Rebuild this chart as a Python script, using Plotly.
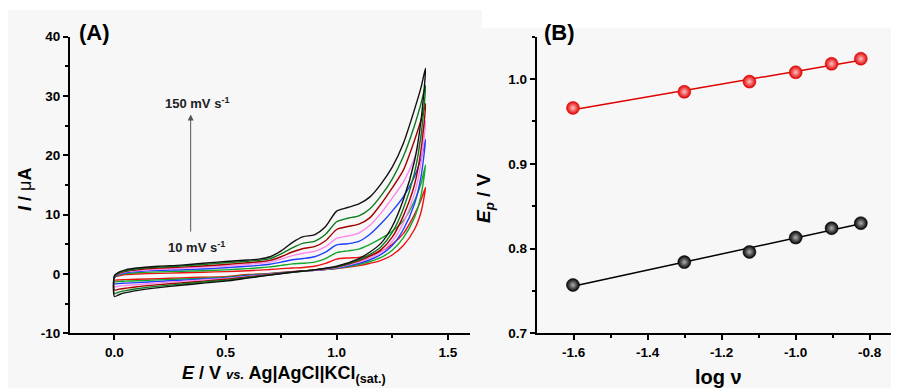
import numpy as np
import plotly.graph_objects as go

# ---------------- Panel A: cyclic voltammograms ----------------
scan_rates = ["10", "25", "50", "75", "100", "125", "150"]
cv_colors = ["#ee1111", "#13a82a", "#1f3fff", "#ff85ee", "#a30000", "#0b7a1c", "#111111"]

E_fwd = [0.0, 0.02, 0.05, 0.1, 0.2, 0.3, 0.4, 0.5, 0.6, 0.65, 0.7, 0.75, 0.8, 0.85, 0.9,
         0.95, 1.0, 1.05, 1.1, 1.15, 1.2, 1.25, 1.3, 1.35, 1.38, 1.4]
I_fwd_10 = [-0.5, -0.3, -0.1, 0.0, 0.1, 0.2, 0.3, 0.4, 0.55, 0.65, 0.75, 0.9, 1.0, 1.1, 1.3,
            1.8, 2.5, 2.7, 2.8, 3.1, 3.8, 5.0, 6.8, 10.0, 12.5, 14.6]
I_fwd_25 = [-0.6, -0.2, 0.05, 0.2, 0.35, 0.45, 0.55, 0.7, 0.9, 1.05, 1.2, 1.45, 1.7, 1.8, 2.0,
            2.6, 3.6, 3.9, 4.2, 5.0, 6.0, 7.2, 9.0, 12.3, 15.3, 18.4]
I_fwd_50 = [-0.6, -0.1, 0.2, 0.4, 0.6, 0.7, 0.85, 1.05, 1.3, 1.45, 1.65, 2.0, 2.4, 2.6, 2.9,
            3.7, 4.9, 5.1, 5.5, 6.7, 8.5, 10.6, 13.0, 16.4, 19.5, 22.7]
I_fwd_75 = [-0.5, 0.0, 0.35, 0.55, 0.8, 0.95, 1.15, 1.35, 1.6, 1.8, 2.0, 2.5, 3.1, 3.5, 3.8,
            4.6, 6.0, 6.4, 6.9, 8.2, 10.3, 12.8, 15.5, 19.5, 23.0, 25.8]
I_fwd_100 = [-0.5, 0.1, 0.45, 0.7, 1.0, 1.15, 1.35, 1.6, 1.9, 2.05, 2.3, 2.9, 3.7, 4.3, 4.6,
             5.6, 7.5, 8.0, 8.4, 9.5, 11.8, 14.5, 17.5, 22.5, 26.0, 28.7]
I_fwd_125 = [-0.4, 0.2, 0.55, 0.85, 1.15, 1.35, 1.6, 1.9, 2.15, 2.3, 2.6, 3.4, 4.4, 5.2, 5.5,
             6.7, 8.8, 9.4, 9.8, 11.0, 13.2, 16.0, 19.8, 25.0, 28.8, 31.8]
I_fwd_150 = [-0.3, 0.3, 0.7, 1.0, 1.3, 1.5, 1.8, 2.1, 2.35, 2.5, 2.9, 3.9, 5.3, 6.3, 6.6,
             8.0, 10.6, 11.2, 11.8, 13.0, 15.2, 18.0, 22.0, 27.7, 31.5, 34.7]

E_rev = [1.4, 1.38, 1.35, 1.3, 1.25, 1.2, 1.15, 1.1, 1.0, 0.9, 0.8, 0.7, 0.6, 0.5, 0.4, 0.3,
         0.2, 0.1, 0.05, 0.02, 0.0]
I_rev_10 = [14.6, 10.5, 7.5, 4.8, 3.2, 2.3, 1.8, 1.4, 0.9, 0.6, 0.4, 0.1, -0.1, -0.45, -0.55,
            -0.65, -0.8, -0.9, -0.95, -1.0, -1.0]
I_rev_25 = [18.4, 13.3, 9.5, 6.1, 4.0, 2.8, 2.1, 1.6, 0.95, 0.6, 0.35, 0.05, -0.2, -0.55, -0.7,
            -0.85, -1.0, -1.15, -1.2, -1.25, -1.3]
I_rev_50 = [22.7, 16.5, 11.8, 7.5, 4.8, 3.3, 2.4, 1.8, 1.0, 0.6, 0.35, 0.0, -0.3, -0.65, -0.85,
            -1.05, -1.25, -1.45, -1.55, -1.6, -1.65]
I_rev_75 = [25.8, 18.8, 13.5, 8.6, 5.5, 3.7, 2.7, 2.0, 1.1, 0.65, 0.35, -0.05, -0.4, -0.75, -1.0,
            -1.25, -1.5, -1.8, -1.95, -2.05, -2.15]
I_rev_100 = [28.7, 21.0, 15.0, 9.8, 6.2, 4.1, 3.0, 2.2, 1.15, 0.7, 0.35, -0.1, -0.5, -0.9, -1.2,
             -1.5, -1.8, -2.15, -2.4, -2.55, -2.7]
I_rev_125 = [31.8, 23.5, 17.0, 11.0, 7.0, 4.6, 3.3, 2.4, 1.2, 0.7, 0.3, -0.15, -0.6, -1.05, -1.35,
             -1.7, -2.05, -2.5, -2.8, -3.05, -3.3]
I_rev_150 = [34.7, 26.0, 19.0, 12.5, 8.0, 5.2, 3.7, 2.6, 1.3, 0.7, 0.3, -0.2, -0.7, -1.2, -1.55,
             -1.9, -2.3, -2.8, -3.15, -3.5, -3.8]

I_fwd_all = [I_fwd_10, I_fwd_25, I_fwd_50, I_fwd_75, I_fwd_100, I_fwd_125, I_fwd_150]
I_rev_all = [I_rev_10, I_rev_25, I_rev_50, I_rev_75, I_rev_100, I_rev_125, I_rev_150]

# tick labels (hyphen-minus as in the original)
xA_ticks = [0.0, 0.5, 1.0, 1.5]
xA_labels = ["0.0", "0.5", "1.0", "1.5"]
yA_ticks = [-10, 0, 10, 20, 30, 40]
yA_labels = ["-10", "0", "10", "20", "30", "40"]

# ---------------- Panel B: peak potential vs log(scan rate) ----------------
log_v = [-1.602, -1.301, -1.125, -1.0, -0.903, -0.824]
Ep_peak2 = [0.966, 0.985, 0.997, 1.008, 1.018, 1.024]
Ep_peak1 = [0.757, 0.784, 0.796, 0.813, 0.824, 0.830]

xB_ticks = [-1.6, -1.4, -1.2, -1.0, -0.8]
xB_labels = ["-1.6", "-1.4", "-1.2", "-1.0", "-0.8"]
yB_ticks = [0.7, 0.8, 0.9, 1.0]
yB_labels = ["0.7", "0.8", "0.9", "1.0"]

# the page body has an 8px margin: the figure starts at (8, 8) and runs to the window edge
OFF = 8
W, H = 899 - OFF, 388 - OFF
FONT = "Liberation Sans, Arial, sans-serif"


def px(x):
    return (x - OFF) / W


def py(y):
    return 1 - (y - OFF) / H


fig = go.Figure()

for lbl, col, If, Ir in zip(scan_rates, cv_colors, I_fwd_all, I_rev_all):
    xs = list(E_fwd) + list(E_rev[1:]) + [E_fwd[0]]
    ys = list(If) + list(Ir[1:]) + [If[0]]
    fig.add_trace(go.Scatter(x=xs, y=ys, mode="lines", name=lbl + " mV/s",
                             line=dict(color=col, width=1.4, shape="spline", smoothing=0.7),
                             xaxis="x", yaxis="y", showlegend=False, hoverinfo="skip"))

lv = np.array(log_v)
for ys_pts, col, grad in [(Ep_peak2, "#e00000", "#ffc0c0"), (Ep_peak1, "#000000", "#b0b0b0")]:
    p = np.polyfit(lv, np.array(ys_pts), 1)
    xl = np.array([lv.min(), lv.max()])
    fig.add_trace(go.Scatter(x=xl, y=np.polyval(p, xl), mode="lines",
                             line=dict(color=col, width=1.5), xaxis="x2", yaxis="y2",
                             showlegend=False, hoverinfo="skip"))
    fig.add_trace(go.Scatter(x=log_v, y=ys_pts, mode="markers",
                             marker=dict(size=13, color=col,
                                         gradient=dict(type="radial", color=grad),
                                         line=dict(color=col, width=0.5)),
                             xaxis="x2", yaxis="y2", showlegend=False))

tickfont = dict(family=FONT, size=13.5, color="black", weight="bold")
ax_common = dict(showline=True, linecolor="black", linewidth=2, ticks="outside",
                 ticklen=5, tickwidth=2, tickcolor="black", showgrid=False, zeroline=False,
                 tickfont=tickfont, mirror=False, automargin=False)
minor_common = dict(ticks="outside", ticklen=3, tickwidth=1.5, tickcolor="black")

x2_right = -1.7 + (899 - 536.7) / 370.0

fig.update_layout(
    width=W, height=H, margin=dict(l=0, r=0, t=0, b=0, pad=0, autoexpand=False),
    paper_bgcolor="white", plot_bgcolor="rgba(0,0,0,0)",
    xaxis=dict(domain=[px(70), px(470)], range=[-0.2, 1.6], tickvals=xA_ticks, ticktext=xA_labels,
               anchor="y", minor=dict(tickvals=[0.25, 0.75, 1.25], **minor_common), **ax_common),
    yaxis=dict(domain=[py(333.3), py(36.7)], range=[-10, 40], tickvals=yA_ticks, ticktext=yA_labels,
               anchor="x", minor=dict(dtick=5, **minor_common), **ax_common),
    xaxis2=dict(domain=[px(536.7), 1.0], range=[-1.7, x2_right],
                tickvals=xB_ticks, ticktext=xB_labels, anchor="y2",
                minor=dict(tickvals=[-1.5, -1.3, -1.1, -0.9], **minor_common), **ax_common),
    yaxis2=dict(domain=[py(333.3), py(36.7)], range=[0.7, 1.05], tickvals=yB_ticks, ticktext=yB_labels,
                anchor="x2",
                minor=dict(tickvals=[0.75, 0.85, 0.95, 1.05], **minor_common), **ax_common),
)

# background panels (light gray)
bg = "#f7f7f7"
fig.add_shape(type="rect", xref="paper", yref="paper", x0=px(8), x1=px(482), y0=0, y1=py(10),
              fillcolor=bg, line=dict(width=0), layer="below")
fig.add_shape(type="rect", xref="paper", yref="paper", x0=px(480), x1=1, y0=0, y1=py(28),
              fillcolor=bg, line=dict(width=0), layer="below")

ann = []
# panel letters
ann.append(dict(text="<b>(A)</b>", x=px(77), y=py(33), xref="paper", yref="paper",
                xanchor="left", yanchor="middle", showarrow=False,
                font=dict(family=FONT, size=22, color="black")))
ann.append(dict(text="<b>(B)</b>", x=px(542), y=py(33), xref="paper", yref="paper",
                xanchor="left", yanchor="middle", showarrow=False,
                font=dict(family=FONT, size=22, color="black")))
# axis titles
ann.append(dict(text="<b><i>E</i> / V <i><span style='font-size:13px'>vs.</span></i> Ag|AgCl|KCl<sub>(sat.)</sub></b>",
                x=px(284), y=py(374), xref="paper", yref="paper", xanchor="center", yanchor="middle",
                showarrow=False, font=dict(family=FONT, size=18, color="black")))
ann.append(dict(text="<b><i>I</i> / </b>μ<b>A</b>", x=px(25), y=py(190), xref="paper", yref="paper",
                xanchor="center", yanchor="middle", textangle=-90, showarrow=False,
                font=dict(family=FONT, size=18, color="black")))
ann.append(dict(text="<b><i>E<sub>p</sub></i> / V</b>", x=px(485), y=py(198), xref="paper", yref="paper",
                xanchor="center", yanchor="middle", textangle=-90, showarrow=False,
                font=dict(family=FONT, size=19, color="black")))
ann.append(dict(text="<b>log ν</b>", x=px(718), y=py(377), xref="paper", yref="paper",
                xanchor="center", yanchor="middle", showarrow=False,
                font=dict(family=FONT, size=20, color="black")))
# scan-rate arrow and labels
ann.append(dict(x=0.343, y=26.9, ax=0.343, ay=6.9, xref="x", yref="y", axref="x", ayref="y",
                showarrow=True, arrowhead=2, arrowsize=1.2, arrowwidth=1, arrowcolor="#555555", text=""))
ann.append(dict(text="<b>150 mV s<sup>-1</sup></b>", x=0.37, y=28.9, xref="x", yref="y",
                showarrow=False, font=dict(family=FONT, size=13, color="#222222")))
ann.append(dict(text="<b>10 mV s<sup>-1</sup></b>", x=0.37, y=4.6, xref="x", yref="y",
                showarrow=False, font=dict(family=FONT, size=13, color="#222222")))
fig.update_layout(annotations=ann)

fig.write_html("out.html")
